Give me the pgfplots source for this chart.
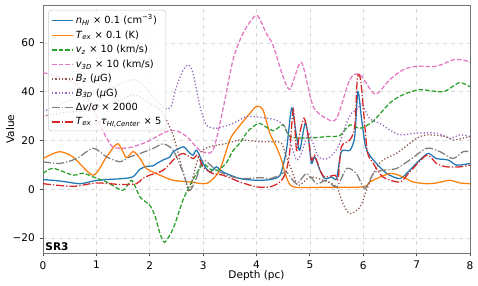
\documentclass[border=0pt]{standalone}
\usepackage{fontspec}
\setmainfont{DejaVu Sans}
\usepackage{pgfplots}
\pgfplotsset{compat=1.18}
\definecolor{tblue}{HTML}{1F77B4}
\definecolor{torange}{HTML}{FF7F0E}
\definecolor{tgreen}{HTML}{2CA02C}
\definecolor{tpink}{HTML}{E377C2}
\definecolor{tbrown}{HTML}{8C564B}
\definecolor{tpurple}{HTML}{9467BD}
\definecolor{tgray}{HTML}{7F7F7F}
\definecolor{tred}{HTML}{D62728}
\tikzset{
  ls/.style={line width=0.95pt, smooth, tension=0.45},
  mdash/.style={dash pattern=on 3.4pt off 1.5pt},
  mdot/.style={dash pattern=on 0.95pt off 1.55pt},
  mdashdot/.style={dash pattern=on 6pt off 1.5pt on 0.95pt off 1.5pt},
}
\newcommand{\mi}[1]{\textit{#1}}
\begin{document}
\begin{tikzpicture}
\begin{axis}[
  scale only axis, width=320.25pt, height=186pt,
  xmin=0, xmax=8, ymin=-26.1, ymax=75.5,
  xtick={0,1,2,3,4,5,6,7,8},
  ytick={-20,0,20,40,60}, yticklabels={−20,0,20,40,60},
  tick align=outside, tick pos=left, major tick length=2.6pt,
  grid=major, grid style={dashed, black!15, line width=0.4pt},
  axis line style={black!55, line width=0.6pt},
  tick style={black!70, line width=0.6pt},
  xlabel={Depth (pc)}, ylabel={Value},
  every axis x label/.style={at={(axis description cs:0.5,-0.093)}, anchor=center},
  every axis y label/.style={at={(axis description cs:-0.077,0.5)}, anchor=center, rotate=90},
  label style={font=\fontsize{7.9}{9}\selectfont},
  tick label style={font=\fontsize{7.9}{9}\selectfont},
  /pgf/number format/assume math mode=true,
  legend cell align=left,
  legend style={at={(0.012,0.98)}, anchor=north west, draw=black!20, rounded corners=2pt,
    fill=white, fill opacity=0.8, text opacity=1,
    font=\fontsize{7.4}{8.6}\selectfont, row sep=1.3pt, inner sep=2.2pt,
    nodes={inner sep=1.2pt}},
  legend image code/.code={\draw[#1, line width=1.2pt] (0cm,0cm) -- (0.56cm,0cm);},
]
% n_HI
\addplot[ls, color=tblue, draw=tblue] coordinates {
(0,4.0) (0.32,3.4) (0.69,2.3) (0.94,3.4) (1.19,4.0) (1.5,4.4) (1.69,5.2) (1.82,8.3) (1.95,9.4) (2.06,9.6) (2.13,10.6) (2.25,12) (2.38,13.3) (2.44,15.4) (2.63,17.4) (2.72,15.5) (2.81,14) (2.88,16) (3.0,10.6) (3.12,7.1) (3.25,9.2) (3.37,7.1) (3.69,4.4) (4.0,3.7) (4.25,4.0) (4.44,5.8) (4.56,16) (4.66,33.3) (4.75,21.6) (4.81,16) (4.91,27) (4.97,21.6) (5.03,10.6) (5.09,13.3) (5.19,7.8) (5.28,4.4) (5.41,5.0) (5.5,4.4) (5.59,15.4) (5.75,16) (5.84,21.6) (5.9,40) (5.97,28.5) (6.05,17) (6.19,12) (6.44,6.5) (6.69,4.4) (6.87,7.8) (7.06,12) (7.22,14.7) (7.37,12.6) (7.59,12) (7.75,9.9) (8.0,10.6)
};
\addlegendentry{\mi{n}\textsubscript{\mi{HI}} × 0.1 (cm\textsuperscript{−3})}
% T_ex
\addplot[ls, color=torange, draw=torange] coordinates {
(0,12.6) (0.13,14) (0.32,15.4) (0.56,13.3) (0.94,5.8) (1.19,13.3) (1.4,18.7) (1.56,13) (1.69,15.5) (1.82,12.6) (1.94,8.5) (2.19,5.8) (2.44,3.7) (2.75,3.0) (3.0,2.3) (3.12,3.0) (3.31,7.8) (3.5,20.2) (3.62,24.3) (3.88,31.2) (4.0,34) (4.12,32.6) (4.25,23) (4.38,17) (4.47,12) (4.56,5) (4.69,1.0) (5.22,0.8) (6.0,1.0) (6.12,3.0) (6.5,6.5) (6.75,5.0) (6.93,3.0) (7.19,2.3) (7.37,2.6) (7.62,3.7) (7.81,2.6) (8.0,2.3)
};
\addlegendentry{\mi{T}\textsubscript{\mi{ex}} × 0.1 (K)}
% v_z
\addplot[ls, mdash, color=tgreen, draw=tgreen] coordinates {
(0,6.5) (0.19,8.6) (0.56,5.8) (0.75,6.6) (0.94,5.1) (1.19,3.0) (1.5,-0.4) (1.66,3.7) (1.82,-3.2) (2.0,-6.5) (2.1,-11) (2.19,-18) (2.28,-21.7) (2.44,-16) (2.63,-4) (2.81,4) (3.0,10.3) (3.15,8) (3.3,8) (3.44,11) (3.55,15.5) (3.69,19) (3.81,23) (3.9,25) (4.06,27) (4.31,24) (4.5,26.4) (4.63,21.5) (5.0,21) (5.31,21.6) (5.56,22) (5.75,26.4) (5.94,25) (6.18,27.8) (6.5,35.4) (6.75,38.8) (7.06,40.8) (7.5,40) (7.8,43.7) (8.0,42)
};
\addlegendentry{\mi{v}\textsubscript{\mi{z}} × 10 (km/s)}
% v_3D
\addplot[ls, mdash, color=tpink, draw=tpink] coordinates {
(0,47.8) (0.3,46) (0.62,43) (0.9,35) (1.1,25) (1.3,17.5) (1.6,17) (1.9,19) (2.0,20) (2.3,23.5) (2.5,24) (2.7,21.5) (2.94,16) (3.18,15.8) (3.37,32.6) (3.56,53) (3.75,64) (4.0,71.3) (4.18,64) (4.31,59) (4.5,46) (4.63,41) (4.84,52) (5.06,34) (5.31,29) (5.5,29) (5.75,45) (5.94,47) (6.22,39) (6.5,45) (6.75,49) (7.0,50.4) (7.37,50.4) (7.68,53) (7.87,53) (8.0,52)
};
\addlegendentry{\mi{v}\textsubscript{\mi{3D}} × 10 (km/s)}
% B_z
\addplot[ls, mdot, color=tbrown, draw=tbrown] coordinates {
(0,30) (0.32,31.2) (0.88,32.6) (1.44,36.7) (1.72,38.8) (1.94,36) (2.19,32.6) (2.3,29) (2.44,22) (2.53,15) (2.63,6.5) (2.74,-1) (2.81,5) (2.94,14.8) (3.12,17.4) (3.44,18.8) (3.69,20.2) (4.06,19.5) (4.34,19.5) (4.47,18.8) (4.56,13.3) (4.66,7.8) (4.78,1.5) (5.0,5.0) (5.25,3.7) (5.5,1.0) (5.62,-5.9) (5.75,-10) (5.94,-7.3) (6.06,-0.4) (6.22,7.8) (6.37,12) (6.62,14.7) (6.87,18.8) (7.0,20.9) (7.19,22.3) (7.56,21.6) (7.68,20.2) (8.0,21.6)
};
\addlegendentry{\mi{B}\textsubscript{\mi{z}} (\mi{μ}G)}
% B_3D
\addplot[ls, mdot, color=tpurple, draw=tpurple] coordinates {
(0,31.9) (0.56,36.7) (1.19,40.8) (1.69,45) (1.9,42) (2.1,37) (2.3,33) (2.4,34) (2.5,42) (2.63,49) (2.72,51) (2.81,47.7) (2.94,34) (3.06,26.4) (3.25,25) (3.56,27) (3.81,29.8) (4.06,29.5) (4.34,28.5) (4.53,25.7) (4.66,17.4) (4.75,12) (4.84,14.7) (4.97,23) (5.06,18.8) (5.16,13.3) (5.34,12.6) (5.53,17.4) (5.66,25.7) (5.78,31.2) (5.9,33) (5.97,35) (6.12,29) (6.31,27) (6.5,24.3) (6.69,22.3) (7.0,23) (7.37,23) (7.62,20.9) (7.81,22.3) (8.0,21.6)
};
\addlegendentry{\mi{B}\textsubscript{\mi{3D}} (\mi{μ}G)}
% dv/sigma
\addplot[ls, mdashdot, color=tgray, draw=tgray] coordinates {
(0,11.3) (0.32,10.6) (0.63,12.6) (0.94,16.8) (1.19,13.3) (1.44,11.3) (1.63,13.3) (1.82,14.7) (2.07,16.8) (2.25,18.6) (2.44,16) (2.63,6.5) (2.75,-0.4) (2.88,5) (3.0,12) (3.25,7.8) (3.56,5.0) (3.81,4.4) (4.06,4.8) (4.25,4.4) (4.44,5.8) (4.56,7.1) (4.75,2.3) (4.94,6.5) (5.13,2.3) (5.31,3.7) (5.5,1.0) (5.69,8.5) (5.87,6.5) (6.03,0.3) (6.19,6.5) (6.37,7.8) (6.62,8.5) (6.87,12) (7.19,16.8) (7.44,15.4) (7.68,12.6) (7.87,15.4) (8.0,15.4)
};
\addlegendentry{Δ\mi{v}/\mi{σ} × 2000}
% Tex*tau
\addplot[ls, mdashdot, color=tred, draw=tred] coordinates {
(0,2.3) (0.56,1.2) (1.0,2.6) (1.44,2.0) (1.75,2.3) (1.87,4.5) (2.0,5.8) (2.25,7.8) (2.5,13.3) (2.63,14.7) (2.81,12.6) (2.9,14) (3.0,9.2) (3.18,6.5) (3.37,5.8) (3.69,3.0) (4.0,1.0) (4.25,1.0) (4.44,3.0) (4.55,7) (4.62,15) (4.69,32.6) (4.75,16) (4.81,23) (4.89,29.1) (4.96,23) (5.03,12) (5.09,14) (5.19,7.8) (5.28,5.0) (5.47,5.8) (5.53,4.4) (5.59,17.4) (5.75,20.2) (5.84,25.7) (5.89,45.6) (5.95,45) (6.02,28.5) (6.08,15) (6.19,10.6) (6.37,5.0) (6.69,3.0) (6.87,7.1) (7.19,14) (7.37,10.6) (7.56,9.2) (7.81,9.2) (8.0,9.9)
};
\addlegendentry{\mi{T}\textsubscript{\mi{ex}} · \mi{τ}\textsubscript{\mi{HI,Center}} × 5}
\node[anchor=south west, inner sep=1pt, font=\bfseries\fontsize{7.9}{9}\selectfont] at (rel axis cs:0.002,0.004) {SR3};
\end{axis}
\pgfresetboundingbox
\useasboundingbox ([xshift=-32.25pt,yshift=-24pt]current axis.south west) rectangle ([xshift=6pt,yshift=3.75pt]current axis.north east);
\end{tikzpicture}
\end{document}
